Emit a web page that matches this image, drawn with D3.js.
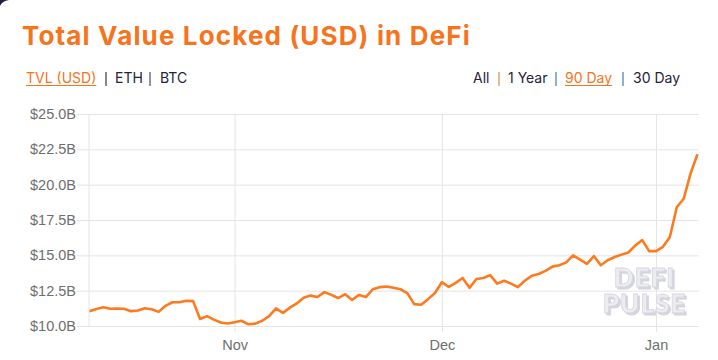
<!DOCTYPE html>
<html>
<head>
<meta charset="utf-8">
<script src="https://cdn.jsdelivr.net/npm/d3@7"></script>
<style>
  html, body { margin: 0; padding: 0; background: #ffffff; }
  svg { display: block; }
</style>
</head>
<body>
<svg id="chart" width="718" height="360"></svg>
<script>
// ---- data ----
const startDate = "2020-10-11";
const tvlValues = [
  11.05, 11.20, 11.33, 11.22, 11.24, 11.22, 11.05, 11.10, 11.25, 11.18,
  11.00, 11.43, 11.68, 11.68, 11.78, 11.76, 10.50, 10.70, 10.45, 10.25,
  10.18, 10.27, 10.37, 10.12, 10.17, 10.37, 10.70, 11.25, 10.92, 11.30,
  11.60, 12.00, 12.15, 12.05, 12.40, 12.20, 11.98, 12.25, 11.84, 12.20,
  12.05, 12.60, 12.75, 12.80, 12.70, 12.60, 12.33, 11.55, 11.50, 11.90,
  12.33, 13.10, 12.76, 13.05, 13.40, 12.70, 13.33, 13.40, 13.60, 13.00,
  13.20, 13.00, 12.75, 13.20, 13.55, 13.68, 13.90, 14.20, 14.30, 14.50,
  15.00, 14.70, 14.40, 14.95, 14.30, 14.65, 14.88, 15.05, 15.20, 15.70,
  16.08, 15.30, 15.30, 15.60, 16.30, 18.40, 19.00, 20.80, 22.15
];
const yTicks = [10, 12.5, 15, 17.5, 20, 22.5, 25];
const xTickDates = ["2020-11-01", "2020-12-01", "2021-01-01"];
const xTickLabels = ["Nov", "Dec", "Jan"];
const titleText = "Total Value Locked (USD) in DeFi";
const leftTabs = ["TVL (USD)", "ETH", "BTC"];
const rightTabs = ["All", "1 Year", "90 Day", "30 Day"];
const watermark = ["DEFI", "PULSE"];

// ---- build ----
const parse = d3.utcParse("%Y-%m-%d");
const t0 = parse(startDate);
const data = tvlValues.map((v, i) => ({ date: d3.utcDay.offset(t0, i), value: v }));

const svg = d3.select("#chart");
const plotLeft = 89.5, plotRight = 699, plotTop = 114, plotBottom = 326;

const defs = svg.append("defs");
const f = defs.append("filter").attr("id", "emboss").attr("x", "-10%").attr("y", "-10%").attr("width", "130%").attr("height", "140%");
f.append("feOffset").attr("in", "SourceAlpha").attr("dx", 2).attr("dy", 1.5).attr("result", "off");
f.append("feFlood").attr("flood-color", "#d4d4de").attr("result", "col");
f.append("feComposite").attr("in", "col").attr("in2", "off").attr("operator", "in").attr("result", "shadow");
const fm = f.append("feMerge");
fm.append("feMergeNode").attr("in", "shadow");
fm.append("feMergeNode").attr("in", "SourceGraphic");

// card corner
svg.append("path").attr("d", "M0,0 H9 Q2,1 0,6 Z").attr("fill", "#2a1846");

const x = d3.scaleUtc()
  .domain([data[0].date, data[data.length - 1].date])
  .range([plotLeft, 697.5]);
const y = d3.scaleLinear().domain([10, 25]).range([plotBottom, plotTop]);

// Title
svg.append("text")
  .attr("x", 22).attr("y", 45)
  .attr("font-family", "Inter, 'Open Sans', sans-serif")
  .attr("font-weight", 700)
  .attr("font-size", 26)
  .attr("letter-spacing", 1.15)
  .attr("fill", "#f7731c")
  .text(titleText);

// tabs
function drawTabs(items, activeIdx, positions) {
  const g = svg.append("g")
    .attr("font-family", "Inter, 'Open Sans', sans-serif")
    .attr("font-size", 14);
  items.forEach((t, i) => {
    const p = positions[i];
    const txt = g.append("text").attr("x", p).attr("y", 83)
      .attr("fill", i === activeIdx ? "#f7731c" : "#23233a")
      .text(t);
    if (i === activeIdx) {
      const w = txt.node().getComputedTextLength();
      g.append("line").attr("x1", p).attr("x2", p + w)
        .attr("y1", 85.5).attr("y2", 85.5)
        .attr("stroke", "#f7731c").attr("stroke-width", 1);
    }
  });
}
drawTabs(leftTabs, 0, [26, 115, 160]);
drawTabs(rightTabs, 2, [473, 508, 565, 633]);
// separators
const sepG = svg.append("g").attr("stroke-width", 1.1);
[[106, "#23233a"], [150, "#4b2a7a"], [499, "#d9822b"], [556, "#2b6fb0"], [623, "#2b6fb0"]].forEach(([sx, c]) => {
  sepG.append("line").attr("x1", sx).attr("x2", sx).attr("y1", 72).attr("y2", 86).attr("stroke", c);
});

// Y axis with grid
const yAxis = d3.axisLeft(y)
  .tickValues(yTicks)
  .tickSize(-(plotRight - 77))
  .tickPadding(1)
  .tickFormat(d => "$" + d3.format(".1f")(d) + "B");
const gy = svg.append("g").attr("transform", "translate(77,0)").call(yAxis);
gy.select(".domain").remove();
gy.selectAll(".tick line").attr("stroke", "#e4e4e4");
gy.selectAll(".tick text")
  .attr("font-family", "Arial, 'Liberation Sans', sans-serif")
  .attr("font-size", 14.5)
  .attr("fill", "#6e6e6e");

// X axis with grid
const xAxis = d3.axisBottom(x)
  .tickValues(xTickDates.map(parse))
  .tickSize(plotBottom + 6 - plotTop)
  .tickPadding(8)
  .tickFormat((d, i) => xTickLabels[i]);
const gx = svg.append("g").attr("transform", `translate(0,${plotTop})`).call(xAxis);
gx.select(".domain").remove();
gx.selectAll(".tick line").attr("stroke", "#e4e4e4");
gx.selectAll(".tick text")
  .attr("font-family", "Arial, 'Liberation Sans', sans-serif")
  .attr("font-size", 14.5)
  .attr("fill", "#6e6e6e");

// left baseline
svg.append("line")
  .attr("x1", plotLeft - 0.5).attr("x2", plotLeft - 0.5)
  .attr("y1", plotTop).attr("y2", plotBottom)
  .attr("stroke", "#e4e4e4");

// watermark (one text, two lines)
const wmText = svg.append("text")
  .attr("font-family", "Lato, sans-serif")
  .attr("font-weight", 900)
  .attr("font-size", 26)
  .attr("letter-spacing", 1)
  .attr("text-anchor", "middle")
  .attr("filter", "url(#emboss)")
  .attr("fill", "#ececf2").attr("stroke", "#d6d6e0").attr("stroke-width", 0.8)
  .attr("y", 286.5);
watermark.forEach((t, i) => {
  wmText.append("tspan").attr("x", 644.5).attr("y", 286.5 + i * 26).text(t);
});

// line
const line = d3.line().x(d => x(d.date)).y(d => y(d.value));
svg.append("path")
  .datum(data)
  .attr("fill", "none")
  .attr("stroke", "#fd7a1e")
  .attr("stroke-width", 2.6)
  .attr("stroke-linejoin", "round")
  .attr("d", line);
</script>
</body>
</html>
